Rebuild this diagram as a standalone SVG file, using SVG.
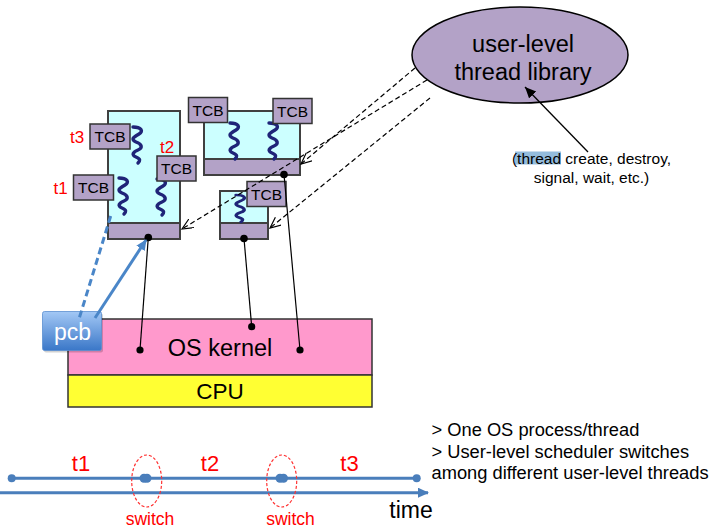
<svg xmlns="http://www.w3.org/2000/svg" width="718" height="530" viewBox="0 0 718 530">
<style>
text{font-family:"Liberation Sans",Arial,sans-serif;}
.box{fill:#ccffff;stroke:#404040;stroke-width:2;}
.bar{fill:#b3a2c7;stroke:#404040;stroke-width:2;}
.tcb{fill:#b3a2c7;stroke:#333;stroke-width:1.5;}
.tcbt{font-size:15.5px;fill:#000;text-anchor:middle;}
.sq{fill:none;stroke:#1f2478;stroke-width:3.4;stroke-linecap:round;stroke-linejoin:round;}
.red{fill:#ff0000;}
.kl{stroke:#000;stroke-width:1.2;fill:none;}
.dash{stroke:#000;stroke-width:1.2;fill:none;stroke-dasharray:5 3;marker-end:url(#open);}
.dot{fill:#000;}
.tl{stroke:#4a7ebb;stroke-width:3;fill:none;}
.tdot{fill:#4a7ebb;}
.sw{fill:none;stroke:#ff3333;stroke-width:1.2;stroke-dasharray:3 2;}
</style>
<defs>
<marker id="open" markerUnits="userSpaceOnUse" markerWidth="14" markerHeight="12" refX="11" refY="5" orient="auto">
<path d="M0,0 L11,5 L0,10" fill="none" stroke="#000" stroke-width="1.2"/>
</marker>
<marker id="fill" markerUnits="userSpaceOnUse" markerWidth="14" markerHeight="12" refX="11" refY="5" orient="auto">
<path d="M0,0 L11,5 L0,10 z" fill="#000"/>
</marker>
<marker id="blue" markerUnits="userSpaceOnUse" markerWidth="14" markerHeight="12" refX="10" refY="5" orient="auto">
<path d="M0,0 L11,5 L0,10 z" fill="#4a86c8"/>
</marker>
<marker id="tarr" markerUnits="userSpaceOnUse" markerWidth="14" markerHeight="12" refX="10" refY="5" orient="auto">
<path d="M0,0 L11,5 L0,10 z" fill="#4a7ebb"/>
</marker>
<linearGradient id="pcbg" x1="0" y1="0" x2="0" y2="1">
<stop offset="0" stop-color="#a3c8f5"/>
<stop offset="1" stop-color="#3a77c8"/>
</linearGradient>
<path id="squig" d="M-4,0 C4,0 7,4 2,7 C-3,10 -7,12 -1,15 C5,17 6,21 1,23 C-4,25 -6,28 -1,30 C4,32 3,34 1,36"/>
</defs>

<g id="kernel">
<rect x="68" y="319" width="304" height="56" fill="#ff99cc" stroke="#333" stroke-width="1.5"/>
<text x="220" y="356" font-size="23.5" text-anchor="middle">OS kernel</text>
</g>
<g id="cpu">
<rect x="68" y="375" width="304" height="32" fill="#ffff33" stroke="#333" stroke-width="1.5"/>
<text x="220" y="399" font-size="22.5" text-anchor="middle">CPU</text>
</g>

<g id="process1">
<rect class="box" x="108" y="111" width="72" height="112"/>
<rect class="bar" x="108" y="223" width="72" height="16"/>
<use href="#squig" class="sq" x="137" y="127"/>
<use href="#squig" class="sq" x="123" y="178"/>
<use href="#squig" class="sq" x="161" y="179"/>
<rect class="tcb" x="90" y="124" width="40" height="25"/>
<text class="tcbt" x="110" y="142">TCB</text>
<rect class="tcb" x="157" y="156" width="39" height="25"/>
<text class="tcbt" x="176.5" y="174">TCB</text>
<rect class="tcb" x="73.5" y="175" width="40" height="25"/>
<text class="tcbt" x="93.5" y="193">TCB</text>
<text class="red" x="70" y="143" font-size="17">t3</text>
<text class="red" x="160" y="152.5" font-size="17">t2</text>
<text class="red" x="53.5" y="194" font-size="17">t1</text>
</g>

<g id="process2">
<rect class="box" x="204" y="111" width="96" height="48"/>
<rect class="bar" x="204" y="159" width="96" height="16"/>
<use href="#squig" class="sq" x="234" y="123"/>
<use href="#squig" class="sq" x="273" y="123"/>
<rect class="tcb" x="188.5" y="97.5" width="39" height="25"/>
<text class="tcbt" x="208" y="115.5">TCB</text>
<rect class="tcb" x="273" y="98.5" width="39" height="25"/>
<text class="tcbt" x="292.5" y="116.5">TCB</text>
</g>

<g id="process3">
<rect class="box" x="220" y="191" width="48" height="32"/>
<rect class="bar" x="220" y="223" width="48" height="16"/>
<use href="#squig" class="sq" transform="translate(240,195) scale(1,0.75)"/>
<rect class="tcb" x="247" y="181.5" width="39" height="25"/>
<text class="tcbt" x="266.5" y="199.5">TCB</text>
</g>

<g id="library">
<ellipse cx="520" cy="55" rx="108" ry="48" fill="#b3a2c7" stroke="#000" stroke-width="1.5"/>
<text x="523" y="52" font-size="23.5" text-anchor="middle">user-level</text>
<text x="523" y="80" font-size="23.5" text-anchor="middle">thread library</text>
</g>

<g id="caption">
<rect x="515" y="151.5" width="46" height="13" fill="#94bcdc"/>
<text x="591.5" y="163.5" font-size="15.5" text-anchor="middle">(thread create, destroy,</text>
<text x="591.5" y="183" font-size="15.5" text-anchor="middle">signal, wait, etc.)</text>
</g>

<g id="pcb">
<rect x="44" y="313.5" width="59" height="39" rx="2" fill="#000" opacity="0.18"/>
<rect x="42.5" y="311.5" width="59" height="39" rx="2" fill="url(#pcbg)" stroke="#5b8fd0" stroke-width="0.8"/>
<text x="72.5" y="340" font-size="23" fill="#fff" text-anchor="middle">pcb</text>
</g>

<g id="connectors">
<line class="dash" x1="415" y1="68" x2="301" y2="164"/>
<line class="dash" x1="427" y1="80" x2="182" y2="229"/>
<line class="dash" x1="430" y1="98" x2="270" y2="228"/>
<line x1="588" y1="152" x2="525" y2="87" stroke="#000" stroke-width="1.3" marker-end="url(#fill)"/>
<line class="kl" x1="148.3" y1="237.5" x2="140" y2="350"/>
<line class="kl" x1="244" y1="238.5" x2="251.7" y2="326.7"/>
<line class="kl" x1="284" y1="174.5" x2="300" y2="350"/>
<circle class="dot" cx="148.3" cy="237.5" r="3.8"/>
<circle class="dot" cx="244" cy="238.5" r="3.8"/>
<circle class="dot" cx="284" cy="174.5" r="3.8"/>
<circle class="dot" cx="140" cy="350" r="3.6"/>
<circle class="dot" cx="251.7" cy="326.7" r="3.6"/>
<circle class="dot" cx="300" cy="350" r="3.6"/>
<line x1="110.7" y1="216" x2="79.3" y2="318" stroke="#4a86c8" stroke-width="3" stroke-dasharray="7 4"/>
<line x1="95" y1="318" x2="146" y2="240" stroke="#4a86c8" stroke-width="3" marker-end="url(#blue)"/>
</g>

<g id="timeline">
<line class="tl" x1="11.7" y1="478.3" x2="416.7" y2="478.3"/>
<line class="tl" x1="0" y1="492.7" x2="428" y2="492.7" marker-end="url(#tarr)"/>
<circle class="tdot" cx="11.7" cy="478.3" r="4"/>
<circle class="tdot" cx="144" cy="478.3" r="4.5"/>
<circle class="tdot" cx="147" cy="478.3" r="4.5"/>
<circle class="tdot" cx="280" cy="478.3" r="4.5"/>
<circle class="tdot" cx="283.5" cy="478.3" r="4.5"/>
<circle class="tdot" cx="416.7" cy="478.3" r="4"/>
<ellipse class="sw" cx="146.7" cy="481" rx="15" ry="26"/>
<ellipse class="sw" cx="281.7" cy="481" rx="15" ry="26"/>
<text class="red" x="81" y="471" font-size="22" text-anchor="middle">t1</text>
<text class="red" x="210" y="471" font-size="22" text-anchor="middle">t2</text>
<text class="red" x="349.5" y="471" font-size="22" text-anchor="middle">t3</text>
<text class="red" x="150" y="524.5" font-size="17.5" text-anchor="middle">switch</text>
<text class="red" x="290.5" y="524.5" font-size="17.5" text-anchor="middle">switch</text>
<text x="411" y="518" font-size="23" text-anchor="middle">time</text>
</g>

<g id="notes">
<text x="431.5" y="435.5" font-size="18.3">&gt; One OS process/thread</text>
<text x="431.5" y="458.3" font-size="18.3">&gt; User-level scheduler switches</text>
<text x="431.5" y="479.3" font-size="18.3">among different user-level threads</text>
</g>
</svg>
